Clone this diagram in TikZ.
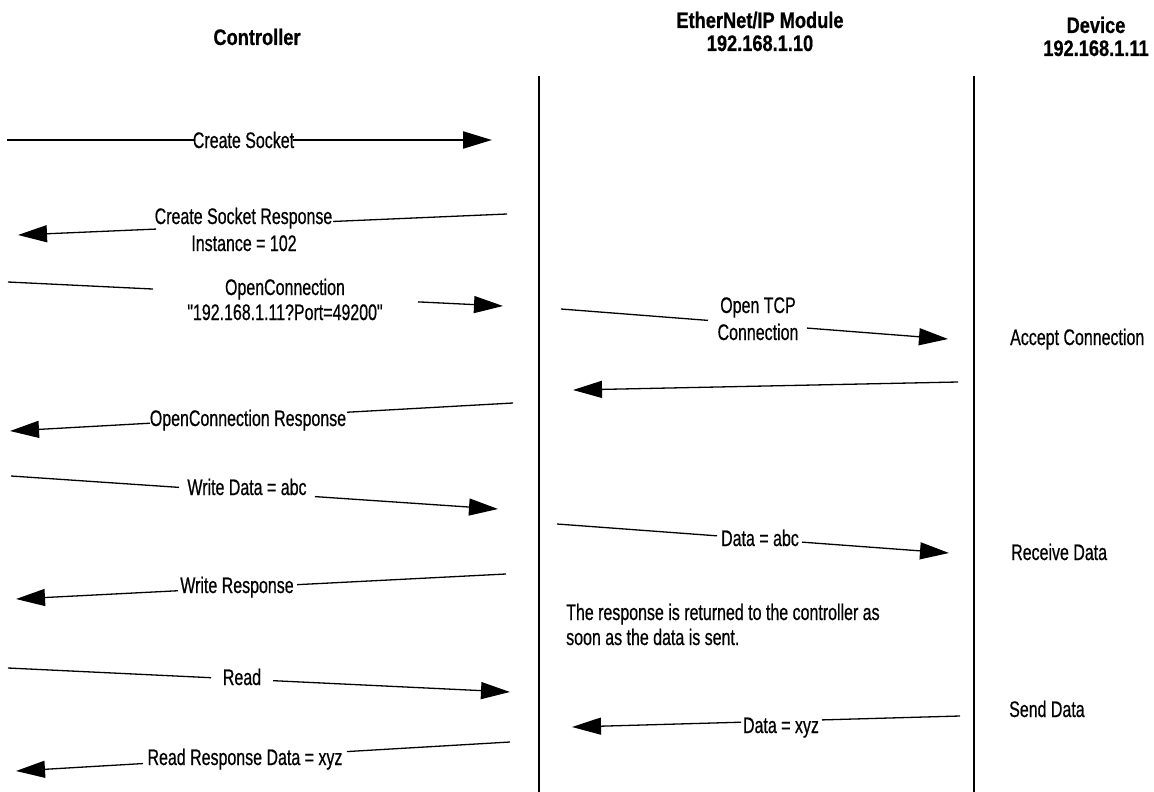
\documentclass[tikz,border=0pt]{standalone}
\usepackage{fontspec}
\setmainfont{Liberation Sans}[FakeStretch=0.71,FakeBold=0.6,Ligatures=TeXOff]
\newfontfamily\hdrfont{Liberation Sans}[FakeStretch=0.81,FakeBold=0.6]
\usetikzlibrary{arrows.meta,calc}
\begin{document}
\begin{tikzpicture}[x=1pt,y=-1pt,
  txt/.style={inner sep=0pt,anchor=base,font=\fontsize{22.5}{26}\selectfont},
  hdr/.style={inner sep=0pt,anchor=base,font=\hdrfont\bfseries\fontsize{22.5}{26}\selectfont},
  side/.style={inner sep=0pt,anchor=base west,font=\fontsize{22.5}{26}\selectfont},
  msg/.style={line width=1.3pt},
  msgarrow/.style={line width=1.3pt,-{Triangle[length=29pt,width=17pt]}},
  life/.style={line width=2.2pt}]
\useasboundingbox (0,0) rectangle (1154,792);

% headers
\node[hdr] (ctrl) at (257,45) {Controller};
\node[hdr] (mod1) at (760,28) {EtherNet/IP Module};
\node[hdr] (mod2) at (760,51) {192.168.1.10};
\node[hdr] (dev1) at (1096,33) {Device};
\node[hdr] (dev2) at (1096,56) {192.168.1.11};

% lifelines
\coordinate (mtop) at (539,76); \coordinate (mbot) at (539,792);
\coordinate (dtop) at (974,76); \coordinate (dbot) at (974,792);
\draw[life] (mtop) -- (mbot);
\draw[life] (dtop) -- (dbot);

% 1 Create Socket
\coordinate (m1s) at (7,140); \coordinate (m1e) at (492,140);
\draw[msg,line width=2.2pt] (m1s) -- ($(m1s)!0.3856!(m1e)$);
\draw[msgarrow,line width=2.2pt] ($(m1s)!0.5897!(m1e)$) -- (m1e);
\node[txt] (l1) at (243.5,148) {Create Socket};

% 2 Create Socket Response
\coordinate (m2s) at (507,214); \coordinate (m2e) at (18,235);
\draw[msg] (m2s) -- ($(m2s)!0.3558!(m2e)$);
\draw[msgarrow] ($(m2s)!0.7178!(m2e)$) -- (m2e);
\node[txt] (l2a) at (243.5,224) {Create Socket Response};
\node[txt] (l2b) at (244,251) {Instance = 102};

% 3 OpenConnection
\coordinate (m3s) at (8,282); \coordinate (m3e) at (503,306);
\draw[msg] (m3s) -- ($(m3s)!0.2929!(m3e)$);
\draw[msgarrow] ($(m3s)!0.8283!(m3e)$) -- (m3e);
\node[txt] (l3a) at (285,295) {OpenConnection};
\node[txt] (l3b) at (285,320) {"192.168.1.11?Port=49200"};

% 4 Open TCP Connection
\coordinate (m4s) at (561,309); \coordinate (m4e) at (948,339);
\draw[msg] (m4s) -- ($(m4s)!0.3798!(m4e)$);
\draw[msgarrow] ($(m4s)!0.6357!(m4e)$) -- (m4e);
\node[txt] (l4a) at (758,313) {Open TCP};
\node[txt] (l4b) at (758,340) {Connection};

% 5 return
\coordinate (m5s) at (958,382); \coordinate (m5e) at (573,390);
\draw[msgarrow] (m5s) -- (m5e);

% 6 OpenConnection Response
\coordinate (m6s) at (513,403); \coordinate (m6e) at (10,431);
\draw[msg] (m6s) -- ($(m6s)!0.3300!(m6e)$);
\draw[msgarrow] ($(m6s)!0.7217!(m6e)$) -- (m6e);
\node[txt] (l6) at (248,426) {OpenConnection Response};

% 7 Write Data
\coordinate (m7s) at (11,476); \coordinate (m7e) at (498,509);
\draw[msg] (m7s) -- ($(m7s)!0.3450!(m7e)$);
\draw[msgarrow] ($(m7s)!0.6242!(m7e)$) -- (m7e);
\node[txt] (l7) at (247,495) {Write Data = abc};

% 8 Data = abc
\coordinate (m8s) at (557,524); \coordinate (m8e) at (949,553);
\draw[msg] (m8s) -- ($(m8s)!0.4082!(m8e)$);
\draw[msgarrow] ($(m8s)!0.6250!(m8e)$) -- (m8e);
\node[txt] (l8) at (760,546) {Data = abc};

% 9 Write Response
\coordinate (m9s) at (506,574); \coordinate (m9e) at (16,599);
\draw[msg] (m9s) -- ($(m9s)!0.4265!(m9e)$);
\draw[msgarrow] ($(m9s)!0.6694!(m9e)$) -- (m9e);
\node[txt] (l9) at (237,593) {Write Response};

% 10 Read
\coordinate (m10s) at (8,668); \coordinate (m10e) at (510,692);
\draw[msg] (m10s) -- ($(m10s)!0.4044!(m10e)$);
\draw[msgarrow] ($(m10s)!0.5279!(m10e)$) -- (m10e);
\node[txt] (l10) at (242,685) {Read};

% 11 Data = xyz
\coordinate (m11s) at (960,716); \coordinate (m11e) at (572,727);
\draw[msg] (m11s) -- ($(m11s)!0.3557!(m11e)$);
\draw[msgarrow] ($(m11s)!0.5644!(m11e)$) -- (m11e);
\node[txt] (l11) at (781,733) {Data = xyz};

% 12 Read Response
\coordinate (m12s) at (510,742); \coordinate (m12e) at (16,771);
\draw[msg] (m12s) -- ($(m12s)!0.3300!(m12e)$);
\draw[msgarrow] ($(m12s)!0.7429!(m12e)$) -- (m12e);
\node[txt] (l12) at (245,765) {Read Response Data = xyz};

% note
\node[side] (note1) at (566,620) {The response is returned to the controller as};
\node[side] (note2) at (566,645) {soon as the data is sent.};

% device side
\node[side] (acc) at (1010,345) {Accept Connection};
\node[side] (rcv) at (1011,560) {Receive Data};
\node[side] (snd) at (1009,717) {Send Data};
\end{tikzpicture}
\end{document}
